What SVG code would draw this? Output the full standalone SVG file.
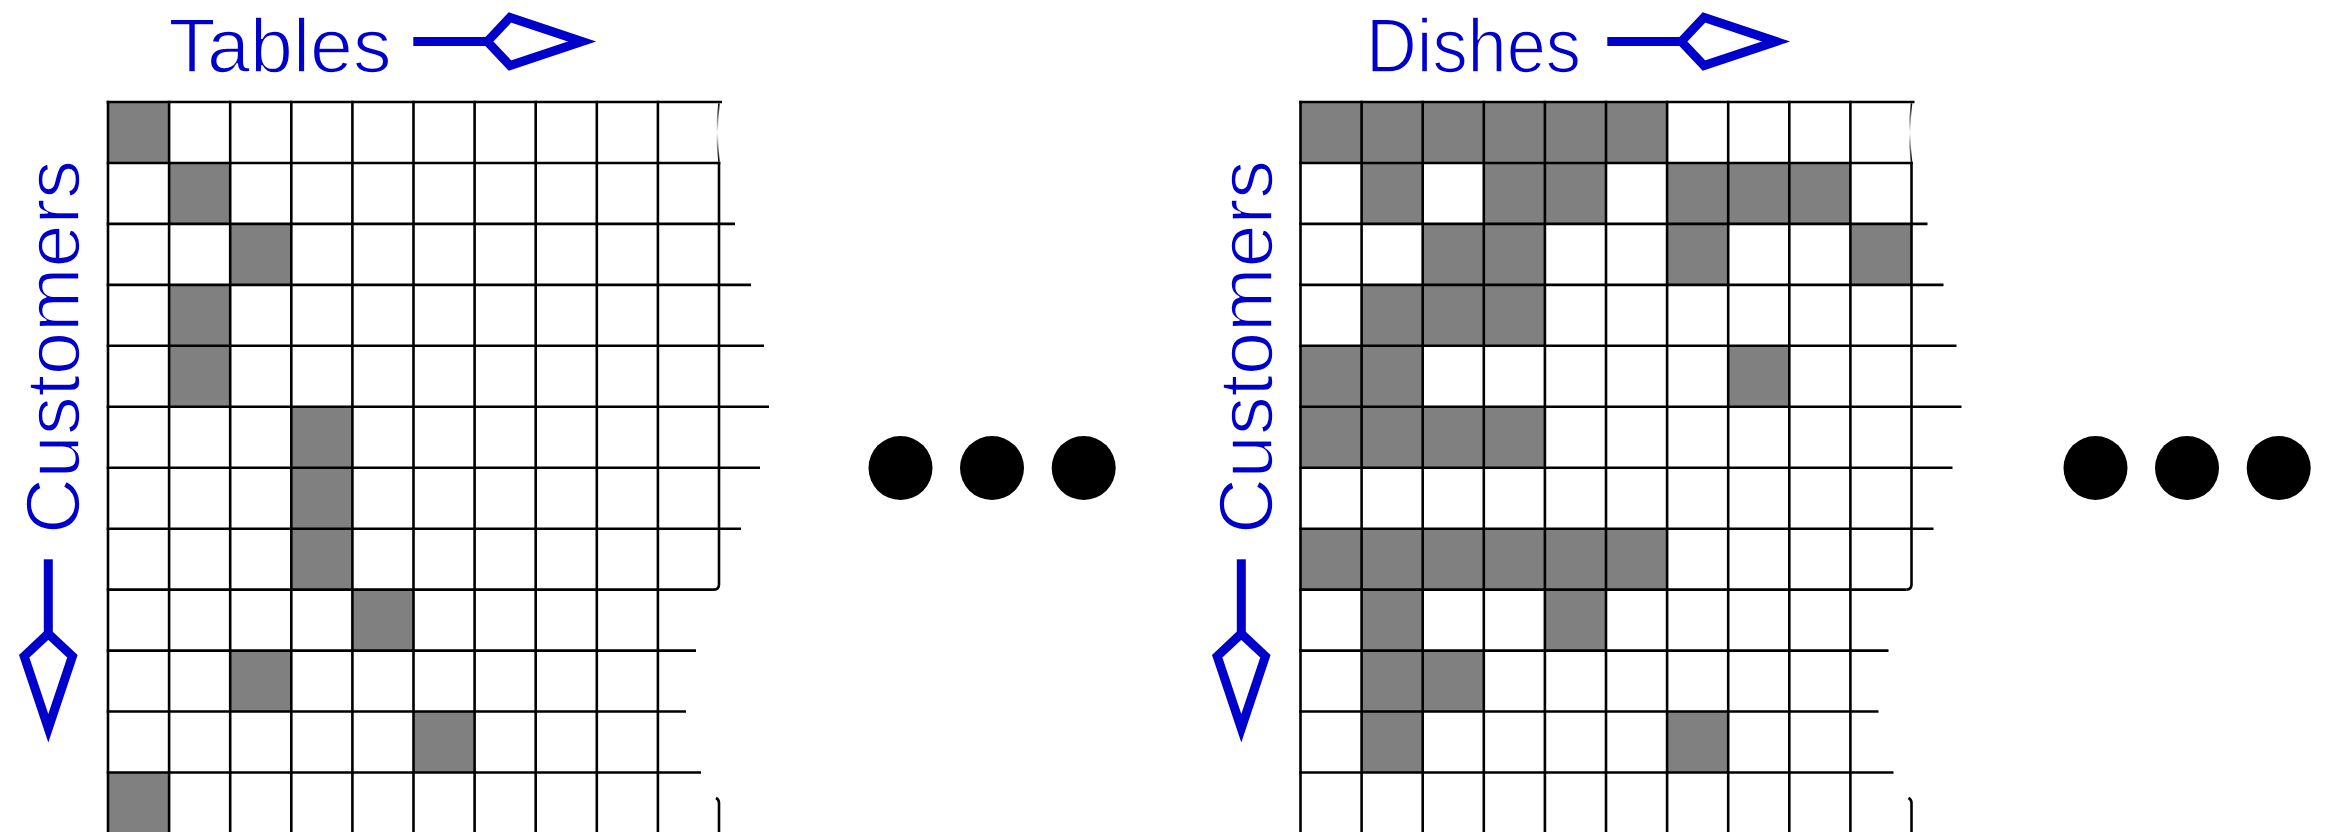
<svg xmlns="http://www.w3.org/2000/svg" xmlns:xlink="http://www.w3.org/1999/xlink" width="2326" height="832" viewBox="0 0 2326 832">
<style>
.lbl{font-family:"Liberation Sans",Arial,sans-serif;font-size:76px;fill:#0000CC;stroke:#fff;stroke-width:1.6;paint-order:fill;}
.ln{stroke:#000;stroke-width:2.6;fill:none;}
.on{fill:#808080;}
.ax{stroke:#0000CC;stroke-width:9;fill:none;stroke-linejoin:miter;stroke-miterlimit:10;}
.dot{fill:#000;}
</style>
<defs>
<linearGradient id="fade" x1="0" y1="0" x2="0" y2="1">
<stop offset="0" stop-color="#000"/>
<stop offset="0.5" stop-color="#fff"/>
<stop offset="1" stop-color="#000"/>
</linearGradient>
<g id="grid">
<path class="ln" d="M108,100.7V834M169.1,100.7V834M230.2,100.7V834M291.3,100.7V834M352.4,100.7V834M413.5,100.7V834M474.6,100.7V834M535.7,100.7V834M596.8,100.7V834M657.9,100.7V834"/>
<path class="ln" d="M719,161.7V584.6Q719,589.6 714,589.6"/>
<path class="ln" d="M716,798Q719,799.5 719,803V834"/>
<path d="M719,103.3Q715.5,132.5 719,161.7" stroke="url(#fade)" stroke-width="1.6" fill="none"/>
<path class="ln" d="M106.7,102H722M106.7,163H720.3M106.7,223.9H735M106.7,284.9H751M106.7,345.8H764M106.7,406.8H769M106.7,467.7H760M106.7,528.7H741M106.7,589.6H714M106.7,650.6H696M106.7,711.5H686M106.7,772.5H701"/>
</g>
</defs>
<rect width="2326" height="832" fill="#fff"/>

<g id="tables-grid">
<rect class="on" x="108" y="102" width="61.1" height="61"/>
<rect class="on" x="169.1" y="163" width="61.1" height="61"/>
<rect class="on" x="230.2" y="223.9" width="61.1" height="61"/>
<rect class="on" x="169.1" y="284.9" width="61.1" height="122"/>
<rect class="on" x="291.3" y="406.8" width="61.1" height="183"/>
<rect class="on" x="352.4" y="589.6" width="61.1" height="61"/>
<rect class="on" x="230.2" y="650.6" width="61.1" height="61"/>
<rect class="on" x="413.5" y="711.5" width="61.1" height="61"/>
<rect class="on" x="108" y="772.5" width="61.1" height="62"/>
<use xlink:href="#grid" href="#grid"/>
</g>

<g id="dishes-grid" transform="translate(1192.5,0)">
<rect class="on" x="108" y="102" width="366.6" height="61"/>
<rect class="on" x="169.1" y="163" width="61.1" height="61"/>
<rect class="on" x="291.3" y="163" width="122.2" height="61"/>
<rect class="on" x="474.6" y="163" width="183.3" height="61"/>
<rect class="on" x="230.2" y="223.9" width="122.2" height="61"/>
<rect class="on" x="474.6" y="223.9" width="61.1" height="61"/>
<rect class="on" x="657.9" y="223.9" width="61.1" height="61"/>
<rect class="on" x="169.1" y="284.9" width="183.3" height="61"/>
<rect class="on" x="108" y="345.8" width="122.2" height="61"/>
<rect class="on" x="535.7" y="345.8" width="61.1" height="61"/>
<rect class="on" x="108" y="406.8" width="244.4" height="61"/>
<rect class="on" x="108" y="528.7" width="366.6" height="61"/>
<rect class="on" x="169.1" y="589.6" width="61.1" height="61"/>
<rect class="on" x="352.4" y="589.6" width="61.1" height="61"/>
<rect class="on" x="169.1" y="650.6" width="122.2" height="61"/>
<rect class="on" x="169.1" y="711.5" width="61.1" height="61"/>
<rect class="on" x="474.6" y="711.5" width="61.1" height="61"/>
<use xlink:href="#grid" href="#grid"/>
</g>

<g id="tables-label"><text class="lbl" x="168.5" y="71.7" textLength="223" lengthAdjust="spacingAndGlyphs">Tables</text></g>
<g id="dishes-label"><text class="lbl" x="1366" y="71.7" textLength="215" lengthAdjust="spacingAndGlyphs">Dishes</text></g>
<g id="customers-label-1"><text class="lbl" transform="translate(78.5,534) rotate(-90)" textLength="374" lengthAdjust="spacingAndGlyphs">Customers</text></g>
<g id="customers-label-2"><text class="lbl" transform="translate(1271.5,534) rotate(-90)" textLength="374" lengthAdjust="spacingAndGlyphs">Customers</text></g>

<g id="connectors">
<path class="ax" d="M413.3,41.5H487.3"/>
<polygon class="ax" points="487.3,41.5 510,17.4 582,41.5 510,65.6"/>
<path class="ax" d="M1607.3,41.5H1681.3"/>
<polygon class="ax" points="1681.3,41.5 1704,17.4 1776,41.5 1704,65.6"/>
<path class="ax" d="M48.3,559.3V633.6"/>
<polygon class="ax" points="48.3,633.6 24.2,656.3 48.3,728.3 72.4,656.3"/>
<path class="ax" d="M1241.3,559.3V633.6"/>
<polygon class="ax" points="1241.3,633.6 1217.2,656.3 1241.3,728.3 1265.4,656.3"/>
</g>

<g id="ellipsis-1">
<circle class="dot" cx="900.5" cy="468" r="32"/>
<circle class="dot" cx="992" cy="468" r="32"/>
<circle class="dot" cx="1083.7" cy="468" r="32"/>
</g>
<g id="ellipsis-2">
<circle class="dot" cx="2095.5" cy="468" r="32"/>
<circle class="dot" cx="2187" cy="468" r="32"/>
<circle class="dot" cx="2278.7" cy="468" r="32"/>
</g>
</svg>
